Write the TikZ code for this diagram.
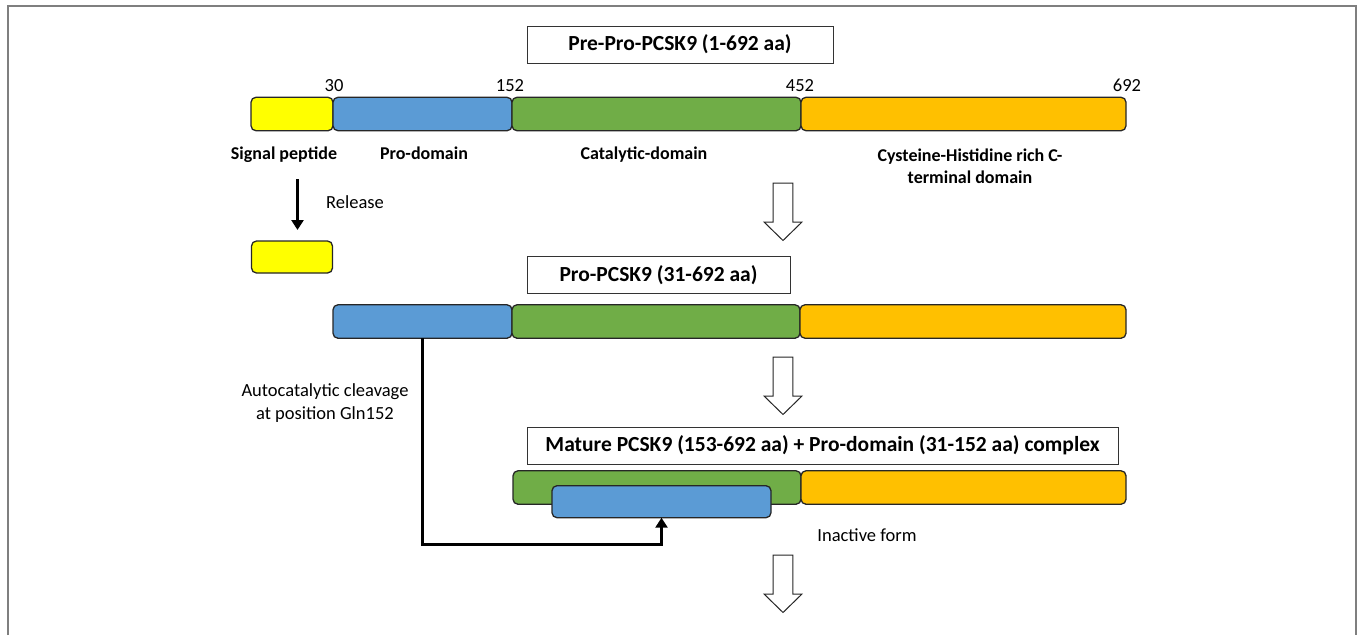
\documentclass[tikz,border=0pt]{standalone}
\usepackage{fontspec}
\setmainfont{Carlito}
\usetikzlibrary{positioning,arrows.meta}

\definecolor{sigyel}{HTML}{FFFF00}
\definecolor{problu}{HTML}{5B9BD5}
\definecolor{catgrn}{HTML}{70AD47}
\definecolor{cysorg}{HTML}{FFC000}
\definecolor{framegray}{HTML}{7F7F7F}

\begin{document}
\begin{tikzpicture}[x=1pt,y=-1pt,
  bar/.style = {draw=black!85, line width=1.3pt, rounded corners=5pt, minimum height=33.5pt, inner sep=0pt, outer sep=0pt},
  titlebox/.style = {draw=black!80, line width=1pt, fill=white, minimum height=37pt, inner sep=0pt, font=\bfseries\fontsize{21.5}{24}\selectfont},
  num/.style = {inner sep=0pt, font=\fontsize{18.5}{20}\selectfont},
  domlabel/.style = {inner sep=0pt, font=\bfseries\fontsize{18}{22}\selectfont},
  note/.style = {inner sep=0pt, font=\fontsize{18.5}{23}\selectfont},
  hollowdown/.pic = {\draw[black!85, line width=1pt, fill=white] (-9.8,0) -- (-9.8,39) -- (-19,39) -- (0,57.5) -- (19,39) -- (9.8,39) -- (9.8,0) -- cycle;},
  thickarrow/.style = {draw=black, line width=3.5pt, -{Triangle[width=12pt,length=10pt]}}]
\useasboundingbox (0,0) rectangle (1357,635);
\draw[framegray, line width=2pt] (7.5,635) -- (7.5,6) -- (1355.5,6) -- (1355.5,635);

% Pre-Pro-PCSK9
\node[titlebox, minimum width=306pt] (t1) at (680,44.5) {Pre-Pro-PCSK9 (1-692 aa)};
\node[bar, fill=sigyel, minimum width=82pt] (s1) at (292,114) {};
\node[bar, fill=problu, minimum width=179pt, right=0pt of s1] (p1) {};
\node[bar, fill=catgrn, minimum width=289pt, right=0pt of p1] (c1) {};
\node[bar, fill=cysorg, minimum width=325pt, right=0pt of c1] (o1) {};
\node[num] (n30) at (334,85.5) {30};
\node[num] (n152) at (510,85.5) {152};
\node[num] (n452) at (800,85.5) {452};
\node[num] (n692) at (1127,85.5) {692};
\node[domlabel, anchor=base] (ls) at (284,159) {Signal peptide};
\node[domlabel, anchor=base] (lp) at (424,159) {Pro-domain};
\node[domlabel, anchor=base] (lc) at (644,159) {Catalytic-domain};
\node[domlabel, align=center] (lo) at (970,166) {Cysteine-Histidine rich C-\\terminal domain};

% signal peptide released
\coordinate (relA) at (297.5,179);
\draw[thickarrow, line width=3pt] (relA) -- ++(0,51);
\node[note, anchor=west] (rel) at (326,202) {Release};
\node[bar, fill=sigyel, minimum width=81pt, minimum height=32pt] (sfree) at (292,257) {};
\pic (flowA) at (783,183) {hollowdown};

% Pro-PCSK9
\node[titlebox, minimum width=263pt] (t2) at (658.5,275) {Pro-PCSK9 (31-692 aa)};
\node[bar, fill=problu, minimum width=179pt] (p2) at (422.5,321.5) {};
\node[bar, fill=catgrn, minimum width=288pt, right=0pt of p2] (c2) {};
\node[bar, fill=cysorg, minimum width=326pt, right=0pt of c2] (o2) {};
\pic (flowB) at (783,357) {hollowdown};
\node[note, align=center] (auto) at (325,403.5) {Autocatalytic cleavage\\at position Gln152};

% mature complex
\node[titlebox, minimum width=591pt] (t3) at (822.5,445.5) {Mature PCSK9 (153-692 aa) + Pro-domain (31-152 aa) complex};
\node[bar, fill=catgrn, minimum width=288pt] (c3) at (657,487.5) {};
\node[bar, fill=cysorg, minimum width=325pt, right=0pt of c3] (o3) {};
\node[bar, fill=problu, minimum width=219pt, minimum height=32pt] (p3) at (661.5,501.7) {};
\node[note] (inact) at (867,535) {Inactive form};
\draw[thickarrow] (p2.south) -- ++(0,206) -| (p3.south);
\pic (flowC) at (783,555) {hollowdown};
\end{tikzpicture}
\end{document}
